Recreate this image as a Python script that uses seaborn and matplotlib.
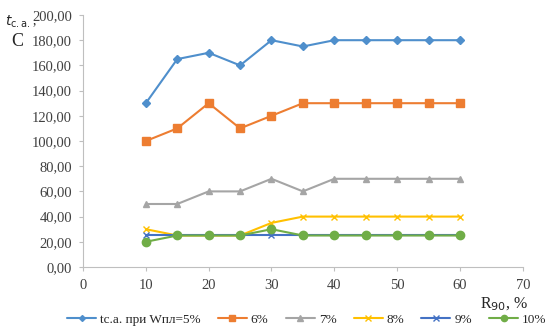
import pandas as pd
import seaborn as sns
import matplotlib.pyplot as plt

# R90, % values
r90 = [10, 15, 20, 25, 30, 35, 40, 45, 50, 55, 60]

# tc.a. for each moisture level
w5 = [130, 165, 170, 160, 180, 175, 180, 180, 180, 180, 180]
w6 = [100, 110, 130, 110, 120, 130, 130, 130, 130, 130, 130]
w7 = [50, 50, 60, 60, 70, 60, 70, 70, 70, 70, 70]
w8 = [30, 25, 25, 25, 35, 40, 40, 40, 40, 40, 40]
w9 = [25, 25, 25, 25, 25, 25, 25, 25, 25, 25, 25]
w10 = [20, 25, 25, 25, 30, 25, 25, 25, 25, 25, 25]

labels = ["tc.a. при Wпл=5%", "6%", "7%", "8%", "9%", "10%"]
series = [w5, w6, w7, w8, w9, w10]
colors = ["#4F8FCC", "#ED7D31", "#A5A5A5", "#FFC000", "#4472C4", "#70AD47"]
markers = ["D", "s", "^", "x", "x", "o"]
msizes = [4, 6, 5, 5, 5, 6]

rows = []
for lab, vals in zip(labels, series):
    for x, v in zip(r90, vals):
        rows.append({"R": x, "t": v, "s": lab})
df = pd.DataFrame(rows)

sns.set_style("white")
plt.rcParams["font.family"] = ["Liberation Serif", "DejaVu Serif"]

fig = plt.figure(figsize=(5.48, 3.26), dpi=100)
ax = fig.add_axes([0.1515, 0.181, 0.8025, 0.773])

for lab, c, m, ms in zip(labels, colors, markers, msizes):
    sns.lineplot(data=df[df["s"] == lab], x="R", y="t", ax=ax, color=c,
                 marker=m, markersize=ms, markeredgecolor=c,
                 markeredgewidth=1.0, linewidth=1.5, label=lab)

ax.set_xlim(0, 70)
ax.set_ylim(0, 200)
ax.set_xticks(range(0, 71, 10))
ax.set_yticks(range(0, 201, 20))
ax.set_yticklabels([f"{v},00" for v in range(0, 201, 20)])
ax.tick_params(axis="both", labelsize=10.5, labelcolor="#404040", length=3,
               direction="out", left=True, bottom=True, color="#BFBFBF")
ax.tick_params(axis="y", pad=5)
ax.tick_params(axis="x", pad=6)
for s in ["top", "right"]:
    ax.spines[s].set_visible(False)
for s in ["left", "bottom"]:
    ax.spines[s].set_color("#BFBFBF")
ax.set_xlabel("")
ax.set_ylabel("")

fig.text(0.01, 0.932, r"$t_{\mathrm{c.a.}}$,", fontsize=10, ha="left", va="center")
fig.text(0.02, 0.872, "C", fontsize=13, ha="left", va="center")
fig.text(0.875, 0.068, r"R$_{90}$, %", fontsize=11.5, ha="left", va="center")

handles, labs = ax.get_legend_handles_labels()
ax.legend().remove()
fig.legend(handles, labs, loc="lower center", bbox_to_anchor=(0.56, -0.035), ncol=6,
           frameon=False, fontsize=9.5, handlelength=2.2, columnspacing=1.3,
           handletextpad=0.3, markerscale=0.75)

fig.savefig("out.png", dpi=100)
